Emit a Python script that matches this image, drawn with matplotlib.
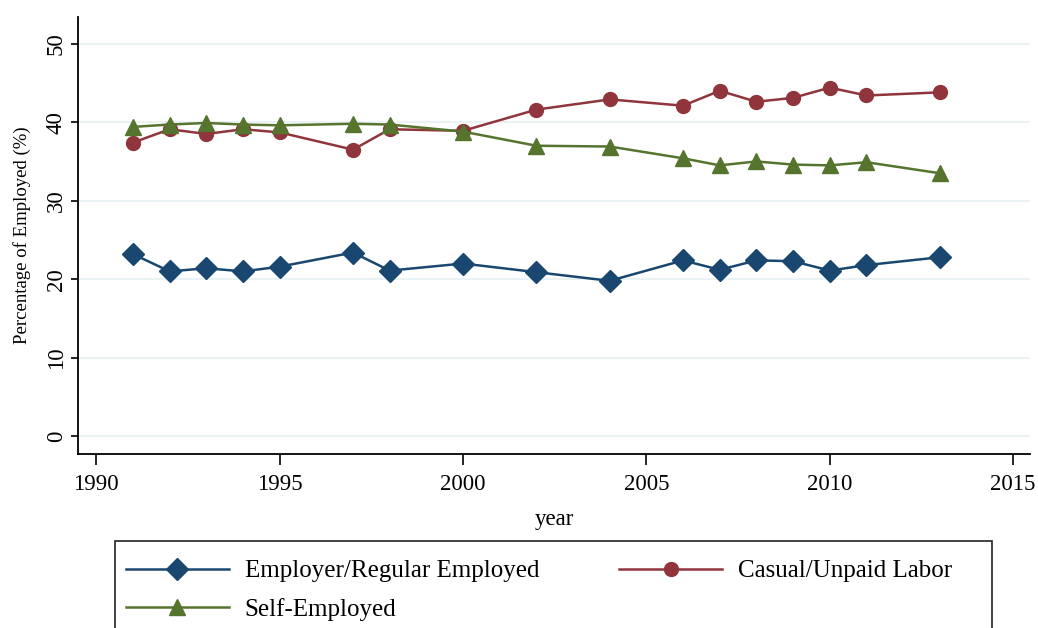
"""
Share of employed by employment type, 1991-2013 (Stata-style line chart).
"""

import matplotlib
matplotlib.use('Agg')
import matplotlib.pyplot as plt
from matplotlib.patches import Rectangle

# Data
years = [1991, 1992, 1993, 1994, 1995, 1997, 1998, 2000, 2002, 2004,
         2006, 2007, 2008, 2009, 2010, 2011, 2013]
employer = [23.2, 21.0, 21.4, 21.0, 21.6, 23.4, 21.1, 22.0, 20.9, 19.8,
            22.4, 21.2, 22.4, 22.3, 21.1, 21.8, 22.8]
casual = [37.4, 39.1, 38.5, 39.1, 38.7, 36.5, 39.1, 38.9, 41.6, 42.9,
          42.1, 44.0, 42.6, 43.1, 44.4, 43.4, 43.8]
self_emp = [39.4, 39.7, 39.9, 39.7, 39.6, 39.8, 39.7, 38.8, 37.0, 36.9,
            35.4, 34.5, 35.0, 34.6, 34.5, 34.9, 33.5]

x_ticks = [1990, 1995, 2000, 2005, 2010, 2015]
y_ticks = [0, 10, 20, 30, 40, 50]

# Stata s2color palette
NAVY = '#1a476f'
MAROON = '#90353b'
FOREST = '#55752f'
GRID = '#eaf2f3'

plt.rcParams['font.family'] = ['Liberation Serif', 'DejaVu Serif']


def main():
    fig = plt.figure(figsize=(10.38, 6.28), dpi=100)
    ax = fig.add_axes([0.0751, 0.2765, 0.9172, 0.6965])

    l1, = ax.plot(years, employer, '-D', color=NAVY, lw=1.8, ms=11,
                  label='Employer/Regular Employed')
    l2, = ax.plot(years, casual, '-o', color=MAROON, lw=1.8, ms=10,
                  label='Casual/Unpaid Labor')
    l3, = ax.plot(years, self_emp, '-^', color=FOREST, lw=1.8, ms=11,
                  label='Self-Employed')

    ax.set_xlim(1989.5, 2015.46)
    ax.set_ylim(-2.3, 53.4)
    ax.set_xticks(x_ticks)
    ax.set_yticks(y_ticks)
    ax.set_yticklabels([str(v) for v in y_ticks], rotation=90, va='center')
    ax.tick_params(axis='x', length=8, width=1.2, labelsize=16.5, pad=6)
    ax.tick_params(axis='y', length=5, width=1.2, labelsize=16.5, pad=3)

    ax.grid(axis='y', color=GRID, lw=1.5)
    ax.set_axisbelow(True)
    for side in ('top', 'right'):
        ax.spines[side].set_visible(False)
    for side in ('left', 'bottom'):
        ax.spines[side].set_linewidth(1.3)

    ax.set_xlabel('year', fontsize=16.5, labelpad=10)
    ax.set_ylabel('Percentage of Employed (%)', fontsize=13.5, labelpad=11)

    # Legend box, bottom edge runs past the figure
    fig.patches.append(Rectangle((115 / 1038, -0.05), (992 - 115) / 1038,
                                 1 - 541 / 628 + 0.05, transform=fig.transFigure,
                                 fill=False, edgecolor='#222222', lw=1.2))
    fig.legend([l1, l3, l2], [l1.get_label(), l3.get_label(), l2.get_label()],
               ncol=2, loc='upper left', bbox_to_anchor=(111 / 1038, 1 - 545 / 628),
               frameon=False, fontsize=18, handlelength=4.1, handletextpad=0.65,
               columnspacing=3.2, labelspacing=0.62, borderpad=0.1)

    fig.savefig('out.png', dpi=100)


if __name__ == "__main__":
    main()
